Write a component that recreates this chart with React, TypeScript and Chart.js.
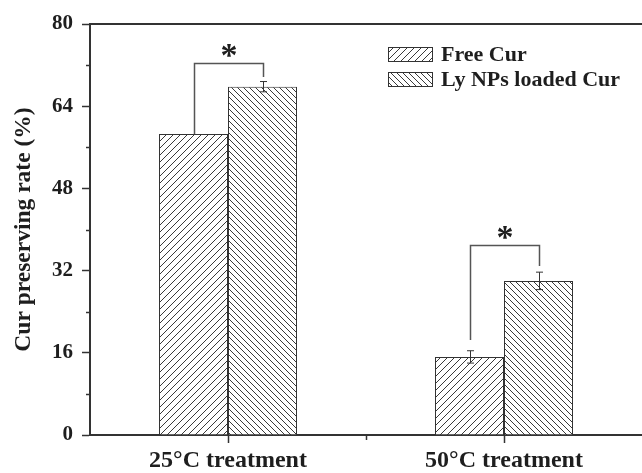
import React, { useEffect, useRef } from 'react';
import { Chart, registerables } from 'chart.js';

Chart.register(...registerables);

const categories = ['25°C treatment', '50°C treatment'];
const seriesNames = ['Free Cur', 'Ly NPs loaded Cur'];
const freeCur = [58.6, 15.2];
const lyNPsCur = [67.8, 30.0];
const freeCurErr = [0, 1.2];
const lyNPsCurErr = [1.0, 1.7];
const yMajorTicks = [0, 16, 32, 48, 64, 80];
const yAxisTitle = 'Cur preserving rate (%)';
const sigMarks = ['*', '*'];
const sigTop = [72.4, 37.0];
const sigLeftBase = [58.6, 18.5];
const sigRightBase = [69.7, 32.9];

const FONT = '"Liberation Serif", "DejaVu Serif", serif';
const INK = '#333333';
const TEXT = '#1e1e1e';

function hatch(size: number, dir: 'up' | 'down') {
  const c = document.createElement('canvas');
  c.width = size;
  c.height = size;
  const g = c.getContext('2d')!;
  g.fillStyle = '#ffffff';
  g.fillRect(0, 0, size, size);
  g.strokeStyle = '#3a3a3a';
  g.lineWidth = 1;
  g.beginPath();
  if (dir === 'up') {
    g.moveTo(-1, size + 1); g.lineTo(size + 1, -1);
    g.moveTo(-1, 1); g.lineTo(1, -1);
    g.moveTo(size - 1, size + 1); g.lineTo(size + 1, size - 1);
  } else {
    g.moveTo(-1, -1); g.lineTo(size + 1, size + 1);
    g.moveTo(size - 1, -1); g.lineTo(size + 1, 1);
    g.moveTo(-1, size - 1); g.lineTo(1, size + 1);
  }
  g.stroke();
  return g.createPattern(c, 'repeat')!;
}

const decorPlugin = {
  id: 'decor',
  afterDatasetsDraw(chart: any) {
    const ctx: CanvasRenderingContext2D = chart.ctx;
    const { left, right, bottom } = chart.chartArea;
    const xs = chart.scales.x;
    const ys = chart.scales.y;
    ctx.save();

    // top frame line
    ctx.strokeStyle = INK;
    ctx.lineWidth = 2;
    ctx.beginPath();
    ctx.moveTo(left - 1, ys.getPixelForValue(80));
    ctx.lineTo(right, ys.getPixelForValue(80));
    ctx.stroke();

    // minor y ticks
    ctx.lineWidth = 1.5;
    for (let v = 8; v < 80; v += 16) {
      const y = Math.round(ys.getPixelForValue(v)) + 0.5;
      ctx.beginPath();
      ctx.moveTo(left - 4, y);
      ctx.lineTo(left, y);
      ctx.stroke();
    }
    // minor x tick between categories
    const midX = Math.round((xs.getPixelForValue(0) + xs.getPixelForValue(1)) / 2) + 0.5;
    ctx.beginPath();
    ctx.moveTo(midX, bottom);
    ctx.lineTo(midX, bottom + 5);
    ctx.stroke();

    // error bars
    const errs = [freeCurErr, lyNPsCurErr];
    const vals = [freeCur, lyNPsCur];
    ctx.lineWidth = 1;
    ctx.strokeStyle = INK;
    for (let d = 0; d < 2; d++) {
      const meta = chart.getDatasetMeta(d);
      meta.data.forEach((bar: any, i: number) => {
        const e = errs[d][i];
        if (!e) return;
        const x = Math.round(bar.x) + 0.5;
        const y1 = ys.getPixelForValue(vals[d][i] + e);
        const y2 = ys.getPixelForValue(vals[d][i] - e);
        ctx.beginPath();
        ctx.moveTo(x, y1); ctx.lineTo(x, y2);
        ctx.moveTo(x - 3.5, y1); ctx.lineTo(x + 3.5, y1);
        ctx.moveTo(x - 3.5, y2); ctx.lineTo(x + 3.5, y2);
        ctx.stroke();
      });
    }

    // significance brackets
    const m0 = chart.getDatasetMeta(0);
    const m1 = chart.getDatasetMeta(1);
    ctx.strokeStyle = '#555555';
    ctx.lineWidth = 1.5;
    for (let i = 0; i < categories.length; i++) {
      const xl = Math.round(m0.data[i].x) + 0.5;
      const xr = Math.round(m1.data[i].x) + 0.5;
      const yt = Math.round(ys.getPixelForValue(sigTop[i])) + 0.5;
      ctx.beginPath();
      ctx.moveTo(xl, ys.getPixelForValue(sigLeftBase[i]));
      ctx.lineTo(xl, yt);
      ctx.lineTo(xr, yt);
      ctx.lineTo(xr, ys.getPixelForValue(sigRightBase[i]));
      ctx.stroke();
      ctx.fillStyle = TEXT;
      ctx.font = `bold 34px ${FONT}`;
      ctx.textAlign = 'center';
      ctx.textBaseline = 'alphabetic';
      ctx.fillText(sigMarks[i], (xl + xr) / 2, yt + 2);
    }

    // legend
    const lx = 388;
    const ly = 47;
    const pitch = 25;
    chart.data.datasets.forEach((ds: any, i: number) => {
      const y = ly + i * pitch;
      ctx.fillStyle = ds.backgroundColor;
      ctx.fillRect(lx, y, 45, 15);
      ctx.strokeStyle = INK;
      ctx.lineWidth = 1;
      ctx.strokeRect(lx + 0.5, y + 0.5, 44, 14);
      ctx.fillStyle = TEXT;
      ctx.font = `bold 22px ${FONT}`;
      ctx.textAlign = 'left';
      ctx.textBaseline = 'middle';
      ctx.fillText(ds.label, lx + 53, y + 8.5);
    });

    ctx.restore();
  },
};

export default function App() {
  const ref = useRef<HTMLCanvasElement | null>(null);
  useEffect(() => {
    document.body.style.margin = '0';
    const canvas = ref.current!;
    const chart = new Chart(canvas, {
      type: 'bar',
      data: {
        labels: categories,
        datasets: [
          {
            label: seriesNames[0],
            data: freeCur,
            backgroundColor: hatch(7, 'up') as any,
            borderColor: INK,
            borderWidth: 1,
            barPercentage: 1,
            categoryPercentage: 0.5,
          },
          {
            label: seriesNames[1],
            data: lyNPsCur,
            backgroundColor: hatch(6, 'down') as any,
            borderColor: INK,
            borderWidth: 1,
            barPercentage: 1,
            categoryPercentage: 0.5,
          },
        ],
      },
      options: {
        animation: false,
        responsive: false,
        maintainAspectRatio: false,
        devicePixelRatio: 1,
        layout: { padding: { top: 24, right: 0, left: 0, bottom: 0 } },
        plugins: { legend: { display: false }, tooltip: { enabled: false } },
        scales: {
          x: {
            type: 'category',
            offset: true,
            grid: {
              display: true,
              offset: false,
              drawOnChartArea: false,
              drawTicks: true,
              tickLength: 8,
              tickWidth: 1.5,
              tickColor: INK,
            },
            border: { display: true, color: INK, width: 2 },
            ticks: {
              font: { family: FONT, size: 24, weight: 'bold' },
              color: TEXT,
              padding: 3,
              maxRotation: 0,
              autoSkip: false,
            },
            afterFit: (s: any) => { s.height = 38; },
          },
          y: {
            min: 0,
            max: 80,
            ticks: {
              stepSize: 8,
              callback: (v: any) => (yMajorTicks.includes(Number(v)) ? String(v) : ''),
              font: { family: FONT, size: 21, weight: 'bold' },
              color: TEXT,
              padding: 9,
            },
            grid: {
              drawOnChartArea: false,
              tickLength: 8,
              tickWidth: 1.5,
              tickColor: (c: any) => (c.tick && yMajorTicks.includes(c.tick.value) ? INK : 'rgba(0,0,0,0)'),
            },
            border: { display: true, color: INK, width: 2 },
            title: {
              display: true,
              text: yAxisTitle,
              font: { family: FONT, size: 23.5, weight: 'bold' },
              color: TEXT,
              padding: { top: 10, bottom: 0 },
            },
            afterFit: (s: any) => { s.width = 90; },
          },
        },
      } as any,
      plugins: [decorPlugin],
    });
    return () => chart.destroy();
  }, []);
  return <canvas ref={ref} width={642} height={473} style={{ display: 'block' }} />;
}
